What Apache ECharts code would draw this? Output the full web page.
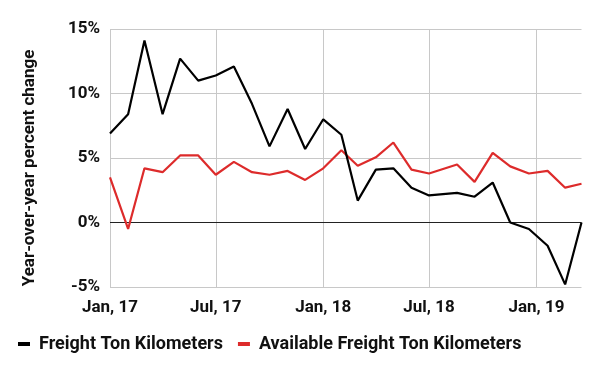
<!DOCTYPE html>
<html>
<head>
<meta charset="utf-8">
<script src="https://cdn.jsdelivr.net/npm/echarts@6/dist/echarts.min.js"></script>
<style>
  html, body { margin: 0; padding: 0; background: #fff; }
  #chart { width: 600px; height: 371px; }
</style>
</head>
<body>
<div id="chart"></div>
<script>
// ---- data ----
const dates = [
  '2017-01-01','2017-02-01','2017-03-01','2017-04-01','2017-05-01','2017-06-01',
  '2017-07-01','2017-08-01','2017-09-01','2017-10-01','2017-11-01','2017-12-01',
  '2018-01-01','2018-02-01','2018-03-01','2018-04-01','2018-05-01','2018-06-01',
  '2018-07-01','2018-08-18','2018-09-17','2018-10-18','2018-11-17','2018-12-19',
  '2019-01-20','2019-02-19','2019-03-19'
];
const freightTonKm = [
  6.9, 8.4, 14.1, 8.4, 12.7, 11.0, 11.4, 12.1, 9.2, 5.9, 8.8, 5.7,
  8.0, 6.8, 1.7, 4.1, 4.2, 2.7, 2.1, 2.3, 2.0, 3.1, 0.0, -0.5,
  -1.8, -4.8, 0.0
];
const availableFreightTonKm = [
  3.5, -0.5, 4.2, 3.9, 5.2, 5.2, 3.7, 4.7, 3.9, 3.7, 4.0, 3.3,
  4.2, 5.6, 4.4, 5.05, 6.2, 4.1, 3.8, 4.5, 3.15, 5.4, 4.35, 3.8,
  4.0, 2.7, 3.0
];
const seriesNames = ['Freight Ton Kilometers', 'Available Freight Ton Kilometers'];
const yTicks = { min: -5, max: 15, interval: 5 };
const xTickDates = ['2017-07-01', '2018-01-01', '2018-07-01', '2019-01-01'];
const xLabelMonths = { 0: 'Jan', 6: 'Jul' };
const yAxisTitle = 'Year-over-year percent change';

// ---- chart ----
const chart = echarts.init(document.getElementById('chart'), null, { renderer: 'canvas' });
const FONT = 'Roboto';
const pair = (vals) => dates.map((d, i) => [d, vals[i]]);
const GRID_COLOR = '#c8c8c8';

chart.setOption({
  animation: false,
  backgroundColor: '#ffffff',
  textStyle: { fontFamily: FONT },
  grid: { left: 110, right: 18.5, top: 29, bottom: 84, containLabel: false },
  legend: {
    left: 13,
    top: 330,
    itemGap: 15,
    itemWidth: 12,
    itemHeight: 4,
    icon: 'rect',
    textStyle: { fontFamily: FONT, fontSize: 18, fontWeight: 'bold', color: '#111', padding: [0, 0, 0, 4] },
    data: seriesNames
  },
  graphic: [{
    type: 'text',
    x: 30,
    y: 168,
    rotation: Math.PI / 2,
    style: {
      text: yAxisTitle,
      fontFamily: FONT,
      fontSize: 17,
      fontWeight: 'bold',
      fill: '#111',
      align: 'center',
      verticalAlign: 'middle'
    }
  }],
  xAxis: {
    type: 'time',
    min: dates[0],
    max: dates[dates.length - 1],
    splitNumber: 5,
    axisLine: { show: false },
    axisTick: { show: false },
    axisLabel: {
      margin: 12,
      fontFamily: FONT,
      fontSize: 17,
      fontWeight: 'bold',
      color: '#111',
      hideOverlap: false,
      formatter: function (v) {
        const d = new Date(v);
        const m = d.getMonth();
        if (d.getDate() === 1 && xLabelMonths[m] !== undefined) {
          return xLabelMonths[m] + ', ' + String(d.getFullYear()).slice(2);
        }
        return '';
      }
    },
    splitLine: { show: false }
  },
  yAxis: {
    type: 'value',
    min: yTicks.min,
    max: yTicks.max,
    interval: yTicks.interval,
    axisLine: { show: false },
    axisTick: { show: false },
    axisLabel: {
      margin: 10,
      fontFamily: FONT,
      fontSize: 17,
      fontWeight: 'bold',
      color: '#111',
      formatter: '{value}%'
    },
    splitLine: { show: true, lineStyle: { color: GRID_COLOR, width: 1 } }
  },
  series: [
    {
      name: 'grid',
      type: 'line',
      data: [],
      z: 0,
      silent: true,
      markLine: {
        silent: true,
        z: 0,
        symbol: ['none', 'none'],
        label: { show: false },
        data: [
          { xAxis: dates[0], lineStyle: { color: GRID_COLOR, width: 1, type: 'solid' } }
        ].concat(xTickDates.map(d => ({ xAxis: d, lineStyle: { color: GRID_COLOR, width: 1, type: 'solid' } })))
         .concat([{ yAxis: 0, lineStyle: { color: '#222', width: 1, type: 'solid' } }])
      }
    },
    {
      name: seriesNames[0],
      type: 'line',
      data: pair(freightTonKm),
      symbol: 'none',
      color: '#000000',
      lineStyle: { color: '#000000', width: 2.2 },
      z: 3
    },
    {
      name: seriesNames[1],
      type: 'line',
      data: pair(availableFreightTonKm),
      symbol: 'none',
      color: '#dd2b2b',
      lineStyle: { color: '#dd2b2b', width: 2.2 },
      z: 2
    }
  ]
});
</script>
</body>
</html>
